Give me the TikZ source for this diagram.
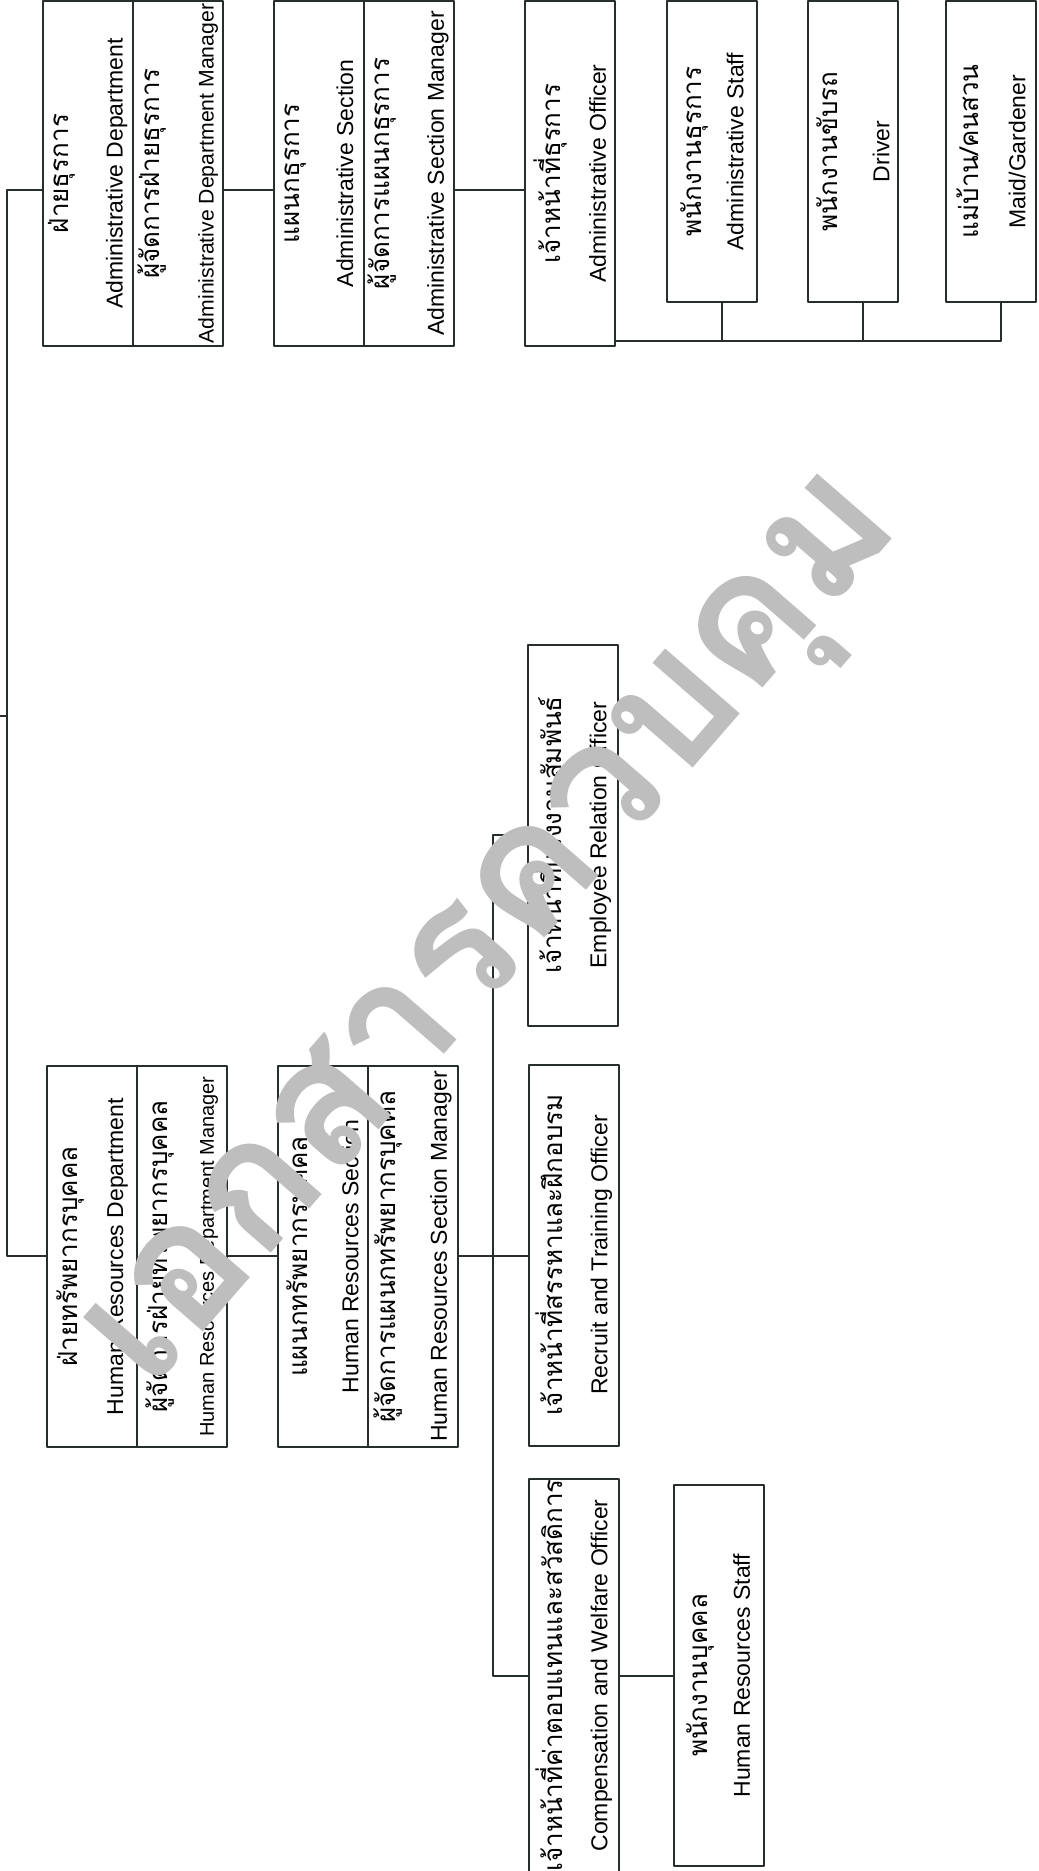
\documentclass[tikz,border=0pt]{standalone}
\usepackage{fontspec}
\setmainfont{Liberation Sans}
\newfontfamily\thai[Script=Thai]{Loma}
\newcommand{\thaitxt}[1]{{\thai\fontsize{13}{13}\selectfont #1}}
\definecolor{ink}{RGB}{40,45,45}
\definecolor{mark}{RGB}{190,190,190}
\begin{document}
\begin{tikzpicture}[x=0.5pt,y=-0.5pt,line join=bevel,
  box/.style={draw=ink,line width=1pt,rotate=90,inner sep=0pt,align=center,minimum height=45pt,font=\fontsize{11.5}{22.5}\selectfont},
  tall/.style={minimum width=190.5pt},
  adm/.style={minimum width=172.5pt},
  low/.style={minimum width=150.5pt},
  link/.style={draw=ink,line width=1pt}]
\fill[white] (0,0) rectangle (1038,1871);
\useasboundingbox (0,0) rectangle (1038,1871);
%%
\node (admdept) at (88,173.5) [box,adm,font=\fontsize{11.5}{27}\selectfont] {\thaitxt{ฝ่ายธุรการ}\\Administrative Department};
\node (admmgr) at (178,173.5) [box,adm,font=\fontsize{11.5}{27}\selectfont] {\thaitxt{ผู้จัดการฝ่ายธุรการ}\\{\fontsize{10.6}{12}\selectfont Administrative Department Manager}};
\node (admsec) at (319,173.5) [box,adm,font=\fontsize{11.5}{27}\selectfont] {\thaitxt{แผนกธุรการ}\\Administrative Section};
\node (admsecmgr) at (408.5,173.5) [box,adm,font=\fontsize{11.5}{27}\selectfont] {\thaitxt{ผู้จัดการแผนกธุรการ}\\Administrative Section Manager};
\node (admoff) at (570,173.5) [box,adm] {\thaitxt{เจ้าหน้าที่ธุรการ}\\Administrative Officer};
\node (admstaff) at (712,151.5) [box,low,font=\fontsize{11.5}{21}\selectfont] {\thaitxt{พนักงานธุรการ}\\Administrative Staff};
\node (driver) at (853,151.5) [box,low,font=\fontsize{11.5}{26}\selectfont] {\thaitxt{พนักงานขับรถ}\\Driver};
\node (maid) at (991,151.5) [box,low,font=\fontsize{11.5}{23.5}\selectfont] {\thaitxt{แม่บ้าน/คนสวน}\\Maid/Gardener};
%
\node (hrdept) at (92,1256.5) [box,tall,font=\fontsize{11.5}{23}\selectfont] {\thaitxt{ฝ่ายทรัพยากรบุคคล}\\Human Resources Department};
\node (hrmgr) at (182,1256.5) [box,tall,font=\fontsize{11.5}{23}\selectfont] {\thaitxt{ผู้จัดการฝ่ายทรัพยากรบุคคล}\\{\fontsize{10}{12}\selectfont Human Resources Department Manager}};
\node (hrsec) at (322.5,1256.5) [box,tall,font=\fontsize{11.5}{25.5}\selectfont] {\thaitxt{แผนกทรัพยากรบุคคล}\\Human Resources Section};
\node (hrsecmgr) at (413,1256.5) [box,tall,font=\fontsize{11.5}{25.5}\selectfont] {\thaitxt{ผู้จัดการแผนกทรัพยากรบุคคล}\\Human Resources Section Manager};
\node (er) at (573,835) [box,tall] {\thaitxt{เจ้าหน้าที่แรงงานสัมพันธ์}\\Employee Relation Officer};
\node (recruit) at (574,1255) [box,tall] {\thaitxt{เจ้าหน้าที่สรรหาและฝึกอบรม}\\Recruit and Training Officer};
\node (comp) at (574,1675.5) [box,tall] {\thaitxt{เจ้าหน้าที่ค่าตอบแทนและสวัสดิการ}\\Compensation and Welfare Officer};
\node (hrstaff) at (718.5,1675.5) [box,tall,font=\fontsize{11.5}{21}\selectfont] {\thaitxt{พนักงานบุคคล}\\Human Resources Staff};
%
\coordinate (admrow) at (0,190);
\coordinate (hrrow) at (0,1256);
\coordinate (trunk) at (7,716);
\coordinate (parent) at (-4,716);
\coordinate (staffbus) at (0,341);
\coordinate (hrbus) at (493,0);
%
\draw [link] (admdept.north |- admrow) -| (trunk) |- (hrdept.north |- hrrow);
\draw [link] (trunk) -- (parent);
\draw [link] (admmgr.south |- admrow) -- (admsec.north |- admrow);
\draw [link] (admsecmgr.south |- admrow) -- (admoff.north |- admrow);
\draw [link] (admoff.south |- staffbus) -| ([xshift=5pt]maid.west);
\draw [link] ([xshift=5pt]admstaff.west) -- ([xshift=5pt]admstaff.west |- staffbus);
\draw [link] ([xshift=5pt]driver.west) -- ([xshift=5pt]driver.west |- staffbus);
\draw [link] (hrmgr.south |- hrrow) -- (hrsec.north |- hrrow);
\draw [link] (hrsecmgr.south |- hrrow) -- (recruit.north |- hrrow);
\draw [link] (er.north) -- (er.north -| hrbus) -- (comp.north -| hrbus) -- (comp.north);
\draw [link] (comp.south) -- (hrstaff.north);
%
\node (stamp) at (505,940) [rotate=49,text=mark,font=\thai\bfseries\fontsize{89}{89}\selectfont] {เอกสารควบคุม};
%
\end{tikzpicture}
\end{document}
